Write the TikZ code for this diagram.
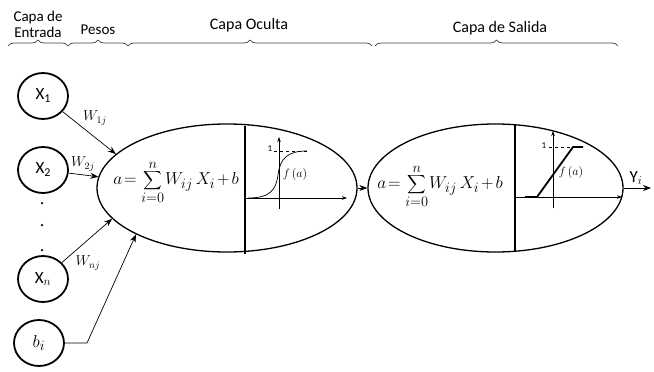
\documentclass[tikz,border=0pt]{standalone}
\usepackage{fontspec}
\usepackage{graphicx}
\setmainfont{Carlito}
\usetikzlibrary{decorations.pathreplacing,arrows.meta,shapes.geometric,calc}
\newcommand{\mysum}{\mathop{\vcenter{\hbox{\scalebox{1.3}{$\displaystyle\sum$}}}}\limits}
\newcommand{\myformula}{$\displaystyle a\mkern2mu{=}\mkern2mu\mysum_{i=0}^{n}\mkern-2mu W_{ij}\,X_i\mkern2mu{+}\mkern2mu b$}
\begin{document}
\begin{tikzpicture}[x=1pt,y=-1pt,
  inp/.style={draw,ellipse,line width=1.8pt,minimum width=50pt,minimum height=46pt,inner sep=0pt,font=\fontsize{17}{17}\selectfont},
  neuron/.style={draw,ellipse,line width=1.3pt,inner sep=0pt},
  arr/.style={-{Stealth[length=8pt,width=6pt]},line width=0.7pt},
  brc/.style={decorate,decoration={brace,amplitude=6pt},line width=0.7pt,draw=black!75},
  lbl/.style={font=\fontsize{15}{16}\selectfont,align=center},
  big/.style={font=\fontsize{16}{17}\selectfont},
  wlbl/.style={font=\fontsize{14.4}{14}\selectfont,inner sep=0pt},
  tiny/.style={font=\fontsize{9}{9}\selectfont,inner sep=0pt},
  fa/.style={font=\fontsize{12}{12}\selectfont,inner sep=0pt},
  formula/.style={inner sep=0pt,font=\fontsize{19}{19}\selectfont},
  dotn/.style={circle,fill,inner sep=0pt,minimum size=2.5pt}
]
\useasboundingbox (0,0) rectangle (654,372);

% headers
\node[lbl] (hin) at (38,24) {Capa de\\Entrada};
\node[lbl] (hw) at (98,30) {Pesos};
\node[big] (hh) at (249,25) {Capa Oculta};
\node[big] (ho) at (500,28) {Capa de Salida};
\coordinate (b0) at (8,46);
\coordinate (b1) at (68,46);
\coordinate (b2) at (128,46);
\coordinate (b3) at (372,46);
\coordinate (b4) at (375,46);
\coordinate (b5) at (618,46);
\draw[brc] (b0) -- (b1);
\draw[brc] (b1) -- (b2);
\draw[brc] (b2) -- (b3);
\draw[brc] (b4) -- (b5);

% inputs
\node[inp] (x1) at (43,96) {X\raisebox{-3pt}{\fontsize{12}{12}\selectfont 1}};
\node[inp] (x2) at (43,170) {X\raisebox{-3pt}{\fontsize{12}{12}\selectfont 2}};
\node[inp] (xn) at (43,279) {X$_n$};
\node[inp,font=\fontsize{19}{19}\selectfont] (bi) at (39,343) {$b_i$};
\node[dotn] (d1) at (42,203) {};
\node[dotn] (d2) at (42,225) {};
\node[dotn] (d3) at (42,250) {};

% neurons
\node[neuron,minimum width=260pt,minimum height=128pt] (n1) at (227,188) {};
\node[neuron,minimum width=255pt,minimum height=128pt] (n2) at (495.5,188) {};

% connectors
\draw[arr] (x1) -- (n1.163);
\draw[arr] (x2) -- (n1.175);
\draw[arr] (xn) -- (n1.195.5);
\coordinate (bk) at (87,343);
\draw[arr] (bi.east) -- (bk) -- (n1.207.5);
\draw[arr] (n1.east) -- (n2.west);
\coordinate (yout) at (651,188);
\draw[arr] (n2.east) -- (yout);

\node[wlbl] (w1) at (95,118) {$W_{1j}$};
\node[wlbl] (w2) at (83,164) {$W_{2j}$};
\node[wlbl] (wn) at (88,263) {$W_{nj}$};
\node[font=\fontsize{17}{17}\selectfont,inner sep=0pt] (yi) at (636,178) {Y$_i$};

% hidden neuron contents
\node[formula] (f1) at (176,182) {\myformula};
\draw[line width=2.4pt] (245,126) -- (245,254);
\draw[-{Stealth[length=5pt,width=3.5pt]},line width=0.6pt] (245,198) -- (347,198);
\draw[-{Stealth[length=5pt,width=3.5pt]},line width=0.6pt] (279,209) -- (279,137);
\draw[dashed,line width=0.5pt] (274,151) -- (307,151);
\node[tiny] at (270,149) {1};
\draw[line width=0.7pt] (248,198) .. controls (270,198) and (276,190) .. (278,175)
  .. controls (280,158) and (288,151) .. (307,151);
\node[fa] at (295,174) {$f\,(a)$};

% output neuron contents
\node[formula] (f2) at (440,186) {\myformula};
\draw[line width=2.4pt] (515,124) -- (515,252);
\draw[-{Stealth[length=5pt,width=3.5pt]},line width=0.6pt] (515,197) -- (622,197);
\draw[-{Stealth[length=5pt,width=3.5pt]},line width=0.6pt] (553,208) -- (553,131);
\draw[dashed,line width=0.5pt] (549,147) -- (573,147);
\node[tiny] at (544,146) {1};
\draw[line width=1.8pt] (525,197) -- (537,197) -- (573,147) -- (583,147);
\node[fa] at (571,172) {$f\,(a)$};
\end{tikzpicture}
\end{document}
